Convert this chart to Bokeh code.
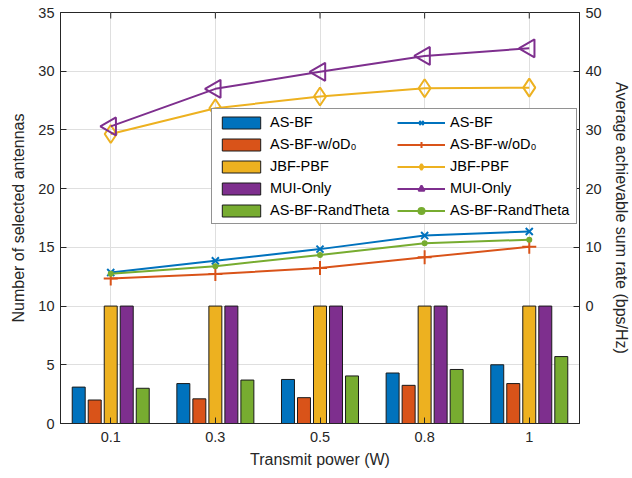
from bokeh.plotting import figure
from bokeh.models import (Range1d, LinearAxis, FixedTicker, Legend, LegendItem,
                          ColumnDataSource)
from bokeh.embed import file_html
from bokeh.resources import INLINE
import numpy as np

# Transmit power levels (W)
powers = ["0.1", "0.3", "0.5", "0.8", "1"]

# Number of selected antennas (bars, left axis)
ant_as_bf = [3.1, 3.4, 3.75, 4.3, 5.0]
ant_as_bf_wod0 = [2.0, 2.1, 2.2, 3.25, 3.4]
ant_jbf_pbf = [10, 10, 10, 10, 10]
ant_mui_only = [10, 10, 10, 10, 10]
ant_randtheta = [3.0, 3.7, 4.05, 4.6, 5.7]

# Average achievable sum rate in bps/Hz (lines, right axis)
rate_as_bf = [5.7, 7.7, 9.7, 12.0, 12.7]
rate_as_bf_wod0 = [4.7, 5.45, 6.5, 8.3, 10.1]
rate_jbf_pbf = [29.3, 33.7, 35.7, 37.1, 37.2]
rate_mui_only = [30.6, 37.0, 39.9, 42.6, 43.9]
rate_randtheta = [5.5, 6.8, 8.7, 10.7, 11.3]

names = ["AS-BF", "AS-BF-w/oD\u2080", "JBF-PBF", "MUI-Only", "AS-BF-RandTheta"]
colors = ["#0072BD", "#D95319", "#EDB120", "#7E2F8E", "#77AC30"]
bar_sets = [ant_as_bf, ant_as_bf_wod0, ant_jbf_pbf, ant_mui_only, ant_randtheta]
rate_sets = [rate_as_bf, rate_as_bf_wod0, rate_jbf_pbf, rate_mui_only, rate_randtheta]

FONT = "Liberation Sans"
TXT = "#262626"

xpos = np.arange(1, len(powers) + 1)
Y_MAX = 35

p = figure(width=632, height=478, output_backend="svg", toolbar_location=None,
           x_range=Range1d(0.52, 5.48), y_range=Range1d(0, Y_MAX),
           min_border_left=60, min_border_right=52, min_border_top=12,
           min_border_bottom=55)
p.extra_y_ranges = {"rate": Range1d(-20, 50)}
p.outline_line_color = TXT
p.outline_line_width = 1
p.background_fill_color = "white"

# grouped bars
step = 0.153
bwidth = 0.124
bar_renderers = []
for k, (vals, col) in enumerate(zip(bar_sets, colors)):
    src = ColumnDataSource(dict(x=xpos + (k - 2) * step, top=vals))
    r = p.vbar(x="x", top="top", width=bwidth, bottom=0, source=src,
               fill_color=col, line_color="#1a1a1a", line_width=1)
    bar_renderers.append(r)

# rate curves with markers
line_items = []
marker_specs = [
    dict(marker="x", size=10, angle=0.0),
    dict(marker="cross", size=14, angle=0.0),
    dict(marker="diamond", size=18, angle=0.0),
    dict(marker="triangle", size=18, angle=np.pi / 2),
    dict(marker="circle", size=4, angle=0.0),
]
for k, (vals, col, ms) in enumerate(zip(rate_sets, colors, marker_specs)):
    src = ColumnDataSource(dict(x=xpos, y=vals))
    lr = p.line("x", "y", source=src, line_color=col, line_width=2,
                y_range_name="rate")
    fill = col if ms["marker"] == "circle" else None
    sr = p.scatter("x", "y", source=src, marker=ms["marker"], size=ms["size"],
                   angle=ms["angle"], line_color=col, line_width=2,
                   fill_color=fill, y_range_name="rate")
    line_items.append(LegendItem(label=names[k], renderers=[lr, sr]))

bar_items = [LegendItem(label=n, renderers=[r]) for n, r in zip(names, bar_renderers)]

legend = Legend(items=bar_items + line_items, ncols=2, orientation="vertical",
                location=(151, 199), label_text_font=FONT,
                label_text_font_size="14.5px", label_text_color="black",
                glyph_width=48, glyph_height=15, label_height=15,
                label_width=121, label_standoff=5, spacing=6, padding=5,
                margin=0, border_line_color=TXT, border_line_width=1,
                background_fill_color="white", background_fill_alpha=1)
p.add_layout(legend)

# bottom axis
xa = p.xaxis[0]
xa.ticker = FixedTicker(ticks=list(xpos))
xa.major_label_overrides = {int(i): s for i, s in zip(xpos, powers)}
xa.axis_label = "Transmit power (W)"

ya = p.yaxis[0]
ya.ticker = FixedTicker(ticks=list(range(0, Y_MAX + 1, 5)))
ya.axis_label = "Number of selected antennas"

ra = LinearAxis(y_range_name="rate", ticker=FixedTicker(ticks=[0, 10, 20, 30, 40, 50]),
                axis_label="Average achievable sum rate (bps/Hz)")
p.add_layout(ra, "right")

for ax in [xa, ya, ra]:
    ax.major_tick_in = 6
    ax.major_tick_out = 0
    ax.minor_tick_in = 0
    ax.minor_tick_out = 0
    ax.axis_line_color = TXT
    ax.major_tick_line_color = TXT
    ax.major_label_text_font = FONT
    ax.major_label_text_font_size = "14.5px"
    ax.major_label_text_color = TXT
    ax.axis_label_text_font = FONT
    ax.axis_label_text_font_size = "16px"
    ax.axis_label_text_font_style = "normal"
    ax.axis_label_text_color = TXT

xa.major_label_standoff = 8
xa.axis_label_standoff = 6
ya.major_label_standoff = 6
ya.axis_label_standoff = 8
ra.major_label_standoff = 6
ra.axis_label_standoff = 8

# inward tick marks along the top edge of the box
tick_len = 6 * Y_MAX / 411
p.segment(x0=xpos, x1=xpos, y0=[Y_MAX] * len(xpos), y1=[Y_MAX - tick_len] * len(xpos),
          line_color=TXT, line_width=1)

p.xgrid.ticker = FixedTicker(ticks=list(xpos))
p.ygrid.ticker = FixedTicker(ticks=list(range(0, Y_MAX + 1, 5)))
for g in [p.xgrid[0], p.ygrid[0]]:
    g.grid_line_color = "#dfdfdf"
    g.grid_line_width = 1

open("out.html", "w").write(file_html(p, INLINE))
